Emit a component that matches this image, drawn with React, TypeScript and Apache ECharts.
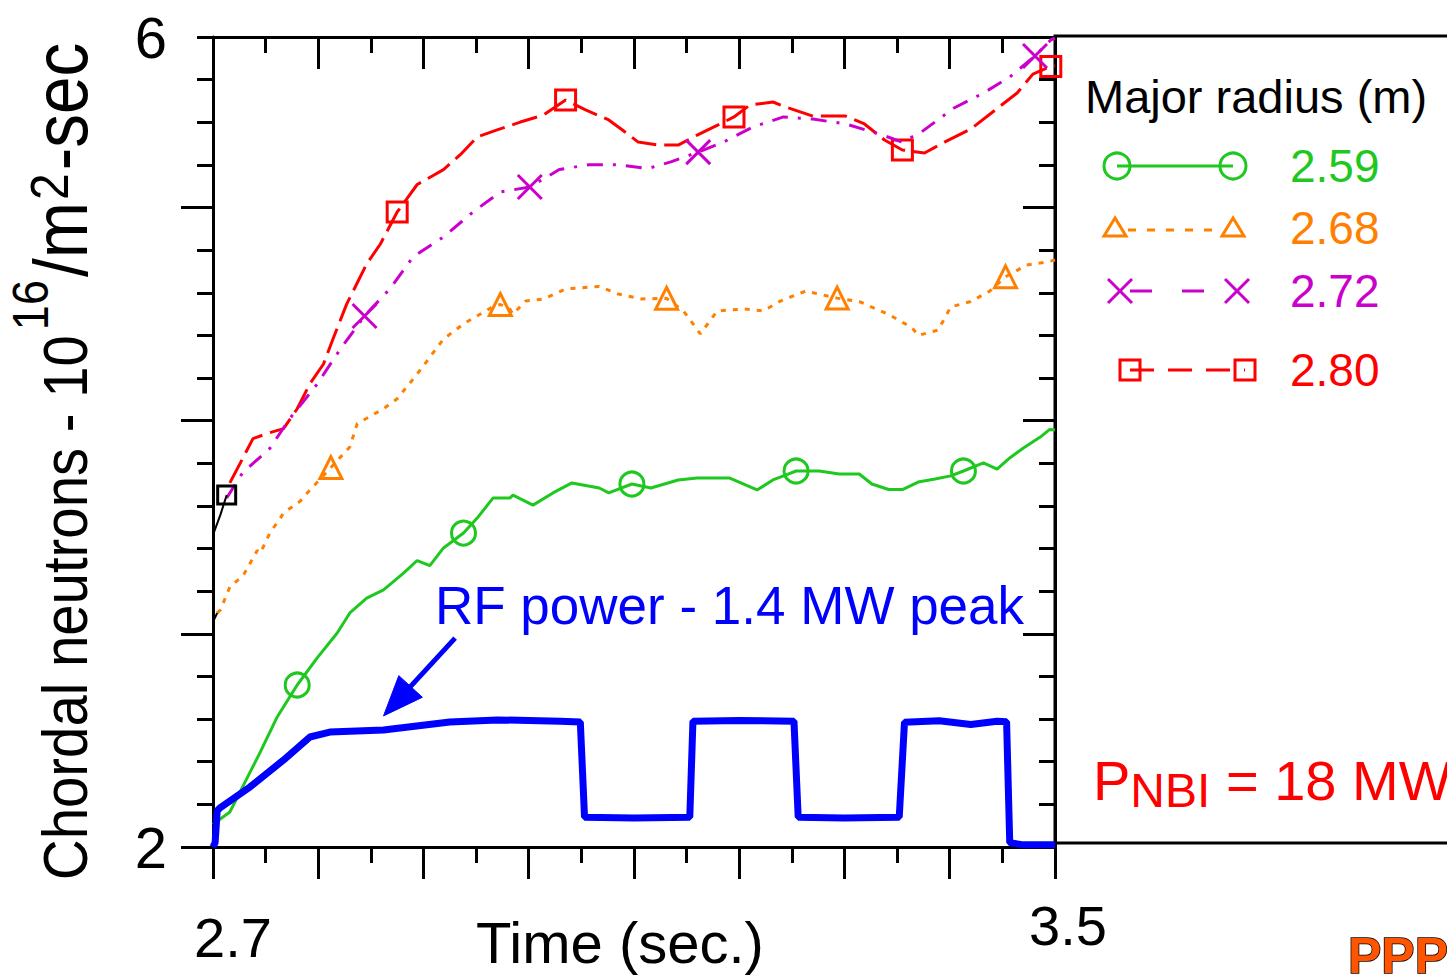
import React, { useEffect, useRef } from 'react';
import * as echarts from 'echarts';

const FONT = "'Liberation Sans', Arial, sans-serif";

// Axes
const X_MIN = 2.7;
const X_MAX = 3.5;
const Y_MIN = 2;
const Y_MAX = 5.8;
const X_LABEL_VALUES = [2.7, 3.5];
const Y_LABEL_VALUES = [2, 5.8];
const Y_LABEL_TEXTS = ['2', '6'];
const Y_MAJOR_LEFT = [2, 3, 4, 5];
const Y_MAJOR_RIGHT = [3, 4, 5];

const X_TITLE = 'Time (sec.)';
const Y_TITLE_PARTS = ['Chordal neutrons - 10', '16', '/m', '2', '-sec'];

const LEGEND_TITLE = 'Major radius (m)';
const RADII = ['2.59', '2.68', '2.72', '2.80'];
const COLORS = ['#1ec81e', '#ff8000', '#cc00cc', '#ff0000'];
const RF_COLOR = '#0000ff';

// RF power (blue)
const rf: [number, number][] = [
  [2.700, 2.00], [2.702, 2.02], [2.704, 2.17], [2.707, 2.185], [2.735, 2.281],
  [2.767, 2.408], [2.792, 2.516], [2.811, 2.539], [2.862, 2.549], [2.925, 2.586],
  [2.970, 2.596], [3.000, 2.594], [3.030, 2.590], [3.049, 2.586], [3.053, 2.140],
  [3.100, 2.136], [3.153, 2.140], [3.156, 2.590], [3.200, 2.594], [3.252, 2.590],
  [3.256, 2.140], [3.300, 2.136], [3.352, 2.140], [3.357, 2.585], [3.390, 2.592],
  [3.420, 2.575], [3.445, 2.590], [3.454, 2.588], [3.457, 2.020], [3.470, 2.010],
  [3.500, 2.010],
];

// R = 2.59 m (green)
const r259: [number, number][] = [
  [2.700, 2.106], [2.716, 2.164], [2.728, 2.281], [2.745, 2.446], [2.761, 2.610],
  [2.780, 2.760], [2.799, 2.887], [2.818, 3.004], [2.830, 3.098], [2.846, 3.168],
  [2.862, 3.206], [2.881, 3.285], [2.894, 3.344], [2.906, 3.320], [2.919, 3.403],
  [2.938, 3.473], [2.951, 3.543], [2.966, 3.637], [2.982, 3.637], [2.985, 3.651],
  [3.004, 3.604], [3.023, 3.661], [3.041, 3.708], [3.067, 3.684], [3.076, 3.661],
  [3.098, 3.703], [3.116, 3.684], [3.142, 3.722], [3.160, 3.731], [3.191, 3.731],
  [3.217, 3.675], [3.232, 3.722], [3.244, 3.745], [3.254, 3.764], [3.276, 3.764],
  [3.295, 3.750], [3.314, 3.750], [3.326, 3.703], [3.342, 3.677], [3.355, 3.677],
  [3.370, 3.712], [3.386, 3.726], [3.401, 3.741], [3.413, 3.764], [3.432, 3.802],
  [3.445, 3.773], [3.457, 3.825], [3.470, 3.872], [3.486, 3.923], [3.495, 3.959],
  [3.500, 3.956],
];
const r259Markers = [5, 15, 25, 33, 43];

// R = 2.68 m (orange)
const r268: [number, number][] = [
  [2.704, 3.098], [2.707, 3.112], [2.716, 3.220], [2.723, 3.250], [2.728, 3.267],
  [2.742, 3.391], [2.745, 3.379], [2.754, 3.473], [2.764, 3.543], [2.767, 3.567],
  [2.783, 3.623], [2.786, 3.642], [2.812, 3.780], [2.830, 3.877], [2.837, 3.986],
  [2.862, 4.056], [2.875, 4.103], [2.894, 4.219], [2.919, 4.383], [2.938, 4.454],
  [2.966, 4.535], [2.973, 4.545], [2.982, 4.524], [2.985, 4.500], [2.997, 4.561],
  [3.014, 4.571], [3.035, 4.618], [3.067, 4.630], [3.085, 4.594], [3.107, 4.571],
  [3.131, 4.574], [3.147, 4.515], [3.163, 4.407], [3.179, 4.515], [3.204, 4.524],
  [3.223, 4.515], [3.239, 4.561], [3.263, 4.608], [3.293, 4.575], [3.314, 4.559],
  [3.342, 4.498], [3.364, 4.437], [3.370, 4.400], [3.389, 4.425], [3.401, 4.534],
  [3.420, 4.559], [3.438, 4.608], [3.453, 4.675], [3.473, 4.730], [3.491, 4.743],
  [3.500, 4.754],
];
const r268Markers = [12, 21, 30, 38, 47];

// R = 2.72 m (magenta)
const r272: [number, number][] = [
  [2.713, 3.637], [2.728, 3.755], [2.754, 3.870], [2.773, 4.010], [2.799, 4.172],
  [2.821, 4.336], [2.844, 4.491], [2.868, 4.618], [2.890, 4.768], [2.919, 4.862],
  [2.947, 4.979], [2.973, 5.073], [3.001, 5.096], [3.029, 5.178], [3.057, 5.201],
  [3.085, 5.201], [3.113, 5.183], [3.135, 5.214], [3.161, 5.260], [3.185, 5.307],
  [3.213, 5.378], [3.242, 5.425], [3.270, 5.415], [3.301, 5.392], [3.333, 5.345],
  [3.355, 5.307], [3.373, 5.354], [3.404, 5.467], [3.432, 5.537], [3.457, 5.612],
  [3.481, 5.711], [3.496, 5.786], [3.500, 5.795],
];
const r272Markers = [6, 12, 18, 30];

// R = 2.80 m (red)
const r280: [number, number][] = [
  [2.716, 3.708], [2.726, 3.802], [2.738, 3.916], [2.751, 3.939], [2.767, 3.963],
  [2.780, 4.056], [2.792, 4.173], [2.805, 4.266], [2.814, 4.383], [2.827, 4.547],
  [2.846, 4.735], [2.859, 4.829], [2.875, 4.979], [2.894, 5.108], [2.919, 5.178],
  [2.935, 5.248], [2.951, 5.331], [2.970, 5.364], [2.992, 5.401], [3.014, 5.434],
  [3.035, 5.504], [3.054, 5.458], [3.076, 5.411], [3.089, 5.364], [3.104, 5.307],
  [3.123, 5.293], [3.142, 5.293], [3.160, 5.340], [3.176, 5.378], [3.195, 5.425],
  [3.210, 5.481], [3.232, 5.495], [3.244, 5.472], [3.270, 5.429], [3.301, 5.429],
  [3.319, 5.392], [3.338, 5.317], [3.355, 5.270], [3.376, 5.256], [3.395, 5.307],
  [3.420, 5.368], [3.442, 5.453], [3.464, 5.537], [3.479, 5.626], [3.496, 5.662],
  [3.500, 5.664],
];
const r280Markers = [12, 20, 29, 37, 44];

// short black start traces
const startTraceUpper: [number, number][] = [[2.700, 3.464], [2.707, 3.558], [2.713, 3.651]];
const startTraceUpperMarkers = [2];
const startTraceLower: [number, number][] = [[2.700, 3.056], [2.704, 3.098]];

// annotations
const RF_LABEL = 'RF power - 1.4 MW peak';
const ARROW_FROM: [number, number] = [2.930, 2.98];
const ARROW_TO: [number, number] = [2.862, 2.615];
const PNBI_PARTS = ['P', 'NBI', ' = 18 MW'];
const LOGO = 'PPPL';

const X_PATH = 'path://M0,0L20,20M20,0L0,20';

function measure(text: string, size: number, family: string, weight = 'normal') {
  const c = document.createElement('canvas').getContext('2d')!;
  c.font = `${weight} ${size}px ${family}`;
  return c.measureText(text).width;
}

function withMarkers(data: [number, number][], idx: number[], marker: any) {
  return data.map((p, i) =>
    idx.includes(i)
      ? { value: p, symbol: marker.symbol, symbolSize: marker.size, itemStyle: marker.itemStyle }
      : p
  );
}

function hollow(color: string) {
  return { color: 'rgba(0,0,0,0)', borderColor: color, borderWidth: 3 };
}

export default function App() {
  const ref = useRef<HTMLDivElement>(null);
  useEffect(() => {
    const el = ref.current!;
    const chart = echarts.init(el, null, { renderer: 'svg' });

    const axisLine = { show: true, lineStyle: { color: '#000', width: 3 } };
    const tickStyle = { color: '#000', width: 3 };

    const lineSeries = (
      name: string, data: any[], color: string, width: number, type: any, z: number
    ) => ({
      type: 'line', name, data, xAxisIndex: 0, yAxisIndex: 0,
      symbol: 'none', showSymbol: true, showAllSymbol: true,
      lineStyle: { color, width, type, cap: 'butt' },
      itemStyle: { color },
      z, silent: true, emphasis: { disabled: true },
    });

    const option: any = {
      animation: false,
      backgroundColor: '#fff',
      grid: { left: 213, right: 392, top: 37, bottom: 129, containLabel: false, outerBoundsMode: 'none' },
      xAxis: [
        {
          type: 'value', position: 'bottom', min: X_MIN, max: X_MAX, interval: 0.1,
          axisLine, axisTick: { show: true, length: 32, lineStyle: tickStyle },
          minorTick: { show: true, splitNumber: 2, length: 16, lineStyle: tickStyle },
          splitLine: { show: false }, minorSplitLine: { show: false },
          axisLabel: {
            show: true, customValues: X_LABEL_VALUES, margin: 50,
            formatter: (v: number) => {
              if (Math.abs(v - X_LABEL_VALUES[0]) < 1e-6) return '{a|' + X_LABEL_VALUES[0].toFixed(1) + '}';
              if (Math.abs(v - X_LABEL_VALUES[1]) < 1e-6) return '{b|' + X_LABEL_VALUES[1].toFixed(1) + '}';
              return '';
            },
            rich: {
              a: { fontSize: 56, fontFamily: FONT, color: '#000', padding: [12, 0, 0, 40] },
              b: { fontSize: 56, fontFamily: FONT, color: '#000', padding: [0, 0, 0, 26] },
            },
          },
        },
        {
          type: 'value', position: 'top', min: X_MIN, max: X_MAX, interval: 0.1,
          axisLine, axisTick: { show: true, inside: true, length: 32, lineStyle: tickStyle },
          minorTick: { show: true, splitNumber: 2, length: 16, lineStyle: tickStyle },
          splitLine: { show: false }, minorSplitLine: { show: false },
          axisLabel: { show: false },
        },
      ],
      yAxis: [
        {
          type: 'value', position: 'left', min: Y_MIN, max: Y_MAX, interval: 0.2,
          axisLine, axisTick: { show: true, length: 16, lineStyle: tickStyle },
          splitLine: { show: false },
          axisLabel: {
            show: true, customValues: Y_LABEL_VALUES, margin: 46,
            fontSize: 58, fontFamily: FONT, color: '#000',
            formatter: (v: number) => {
              const i = Y_LABEL_VALUES.findIndex((u) => Math.abs(u - v) < 1e-6);
              return i >= 0 ? Y_LABEL_TEXTS[i] : '';
            },
          },
        },
        {
          type: 'value', position: 'left', min: Y_MIN, max: Y_MAX, interval: 1,
          axisLine: { show: false },
          axisTick: { show: true, length: 32, lineStyle: tickStyle, customValues: Y_MAJOR_LEFT },
          splitLine: { show: false }, axisLabel: { show: false },
        },
        {
          type: 'value', position: 'right', min: Y_MIN, max: Y_MAX, interval: 0.2,
          axisLine, axisTick: { show: true, inside: true, length: 16, lineStyle: tickStyle },
          splitLine: { show: false }, axisLabel: { show: false },
        },
        {
          type: 'value', position: 'right', min: Y_MIN, max: Y_MAX, interval: 1,
          axisLine: { show: false },
          axisTick: { show: true, inside: true, length: 32, lineStyle: tickStyle, customValues: Y_MAJOR_RIGHT },
          splitLine: { show: false }, axisLabel: { show: false },
        },
      ],
      series: [
        lineSeries(RADII[3], withMarkers(r280, r280Markers, { symbol: 'rect', size: 20, itemStyle: hollow(COLORS[3]) }), COLORS[3], 3, [26, 8], 3),
        lineSeries(RADII[2], withMarkers(r272, r272Markers, { symbol: X_PATH, size: 24, itemStyle: { color: 'none', borderColor: COLORS[2], borderWidth: 3 } }), COLORS[2], 3, [16, 10, 3, 10], 4),
        lineSeries(RADII[1], withMarkers(r268, r268Markers, { symbol: 'triangle', size: 22, itemStyle: hollow(COLORS[1]) }), COLORS[1], 3, [5, 7], 5),
        lineSeries(RADII[0], withMarkers(r259, r259Markers, { symbol: 'circle', size: 24, itemStyle: hollow(COLORS[0]) }), COLORS[0], 3, 'solid', 6),
        lineSeries('start', withMarkers(startTraceUpper, startTraceUpperMarkers, { symbol: 'rect', size: 18, itemStyle: hollow('#000') }), '#000', 2, 'solid', 7),
        lineSeries('start2', startTraceLower, '#000', 2, 'solid', 7),
        lineSeries('RF power', rf, RF_COLOR, 7, 'solid', 8),
      ],
    };
    chart.setOption(option);

    // --- graphics (annotations, legend, axis titles) ---
    const g: any[] = [];
    const txt = (text: string, x: number, y: number, size: number, fill: string, extra: any = {}) => ({
      type: 'text', x, y, silent: true,
      style: { text, fontSize: size, fontFamily: FONT, fill, align: 'left', verticalAlign: 'middle', ...extra },
    });

    // x axis title
    g.push(txt(X_TITLE, 620, 942, 58, '#000', { align: 'center' }));

    // legend box
    g.push({ type: 'rect', silent: true, shape: { x: 1055, y: 36, width: 430, height: 807 }, style: { fill: 'none', stroke: '#000', lineWidth: 3 } });
    g.push(txt(LEGEND_TITLE, 1085, 96, 47, '#000'));

    const rows = [166, 228, 291, 370];
    // row 1: circles
    g.push({ type: 'line', silent: true, shape: { x1: 1117, y1: rows[0], x2: 1233, y2: rows[0] }, style: { stroke: COLORS[0], lineWidth: 3 } });
    [1117, 1233].forEach((cx) => g.push({ type: 'circle', silent: true, shape: { cx, cy: rows[0], r: 13 }, style: { fill: 'none', stroke: COLORS[0], lineWidth: 3 } }));
    // row 2: triangles
    g.push({ type: 'line', silent: true, shape: { x1: 1128, y1: rows[1] + 2, x2: 1222, y2: rows[1] + 2 }, style: { stroke: COLORS[1], lineWidth: 3, lineDash: [8, 11] } });
    [1115, 1233].forEach((cx) => g.push({ type: 'polygon', silent: true, shape: { points: [[cx, rows[1] - 10], [cx - 11, rows[1] + 8], [cx + 11, rows[1] + 8]] }, style: { fill: 'none', stroke: COLORS[1], lineWidth: 3 } }));
    // row 3: crosses
    g.push({ type: 'line', silent: true, shape: { x1: 1130, y1: rows[2], x2: 1226, y2: rows[2] }, style: { stroke: COLORS[2], lineWidth: 3, lineDash: [22, 30] } });
    [1120, 1237].forEach((cx) => {
      g.push({ type: 'line', silent: true, shape: { x1: cx - 12, y1: rows[2] - 12, x2: cx + 12, y2: rows[2] + 12 }, style: { stroke: COLORS[2], lineWidth: 3 } });
      g.push({ type: 'line', silent: true, shape: { x1: cx - 12, y1: rows[2] + 12, x2: cx + 12, y2: rows[2] - 12 }, style: { stroke: COLORS[2], lineWidth: 3 } });
    });
    // row 4: squares
    g.push({ type: 'line', silent: true, shape: { x1: 1130, y1: rows[3], x2: 1245, y2: rows[3] }, style: { stroke: COLORS[3], lineWidth: 3, lineDash: [24, 14] } });
    [1130, 1245].forEach((cx) => g.push({ type: 'rect', silent: true, shape: { x: cx - 10, y: rows[3] - 10, width: 20, height: 20 }, style: { fill: 'none', stroke: COLORS[3], lineWidth: 3 } }));
    RADII.forEach((r, i) => g.push(txt(r, 1290, rows[i], 46, COLORS[i])));

    // RF annotation
    g.push(txt(RF_LABEL, 435, 605, 53, RF_COLOR));
    const a = chart.convertToPixel({ xAxisIndex: 0, yAxisIndex: 0 }, ARROW_FROM) as number[];
    const b = chart.convertToPixel({ xAxisIndex: 0, yAxisIndex: 0 }, ARROW_TO) as number[];
    const dx = b[0] - a[0], dy = b[1] - a[1];
    const len = Math.hypot(dx, dy);
    const ux = dx / len, uy = dy / len;
    const headLen = 40, headW = 16;
    const bx = b[0] - ux * headLen, by = b[1] - uy * headLen;
    g.push({ type: 'line', silent: true, shape: { x1: a[0], y1: a[1], x2: bx + ux * 4, y2: by + uy * 4 }, style: { stroke: RF_COLOR, lineWidth: 5 } });
    g.push({ type: 'polygon', silent: true, shape: { points: [[b[0], b[1]], [bx - uy * headW, by + ux * headW], [bx + uy * headW, by - ux * headW]] }, style: { fill: RF_COLOR, stroke: RF_COLOR, lineWidth: 1 } });

    // P_NBI
    const wP = measure(PNBI_PARTS[0], 56, FONT);
    const wN = measure(PNBI_PARTS[1], 48, FONT);
    g.push(txt(PNBI_PARTS[0], 1093, 780, 56, '#ff0000'));
    g.push(txt(PNBI_PARTS[1], 1093 + wP, 790, 48, '#ff0000'));
    g.push(txt(PNBI_PARTS[2], 1093 + wP + wN, 780, 56, '#ff0000'));

    // logo (orange with dark edge)
    g.push(txt(LOGO, 1348, 956, 50, '#ff5500', { fontWeight: 'bold', stroke: '#000', lineWidth: 1.5 }));

    // Y axis title (rotated, slightly condensed look via vertical stretch)
    const sy = 1.12;
    const F = (545 / measure(Y_TITLE_PARTS[0], 100, FONT)) * 100;
    const sizes = [F, F * 0.8, F * 1.2, F * 0.85, F * 1.2];
    const gaps = [0, 5, 3, 2, 3];
    const offs = [65, 31, 61, 50, 61];
    let lx = 0;
    const children: any[] = Y_TITLE_PARTS.map((t, i) => {
      lx += gaps[i];
      const el = {
        type: 'text', x: lx, y: offs[i] / sy, silent: true,
        style: { text: t, fontSize: sizes[i], fontFamily: FONT, fill: '#000', align: 'left', verticalAlign: 'middle' },
      };
      lx += measure(t, sizes[i], FONT);
      return el;
    });
    g.push({ type: 'group', x: 0, y: 880, rotation: Math.PI / 2, scaleX: 1, scaleY: sy, children });

    chart.setOption({ graphic: g });

    return () => chart.dispose();
  }, []);
  return <div ref={ref} style={{ position: 'fixed', left: 0, top: 0, width: 1447, height: 976, background: '#fff' }} />;
}
